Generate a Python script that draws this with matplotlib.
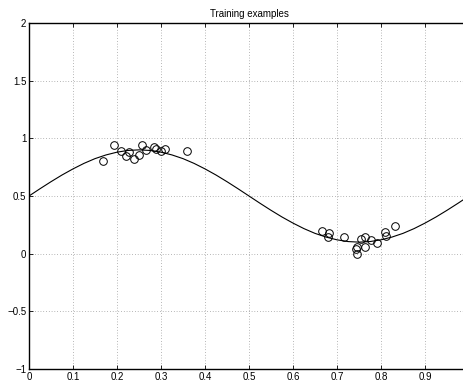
import numpy as np
import matplotlib
matplotlib.use("Agg")
import matplotlib.pyplot as plt

plt.rcParams['font.family'] = ['Liberation Sans', 'DejaVu Sans']

# training points
train_x = [0.168, 0.193, 0.208, 0.220, 0.228, 0.239, 0.251, 0.256, 0.265, 0.284,
           0.288, 0.300, 0.309, 0.358,
           0.666, 0.681, 0.680, 0.715, 0.745, 0.743, 0.745, 0.755, 0.764, 0.763,
           0.778, 0.792, 0.808, 0.812, 0.831]
train_y = [0.807, 0.945, 0.893, 0.844, 0.880, 0.824, 0.859, 0.945, 0.902, 0.922,
           0.910, 0.893, 0.910, 0.887,
           0.197, 0.182, 0.145, 0.145, 0.061, 0.038, 0.000, 0.124, 0.145, 0.061,
           0.116, 0.090, 0.190, 0.153, 0.240]

# underlying curve, sampled every 0.025
curve_x = [i * 0.025 for i in range(41)]
curve_y = [0.5, 0.563, 0.624, 0.682, 0.735, 0.783, 0.824, 0.856, 0.880, 0.895,
           0.9, 0.895, 0.880, 0.856, 0.824, 0.783, 0.735, 0.682, 0.624, 0.563,
           0.5, 0.437, 0.376, 0.318, 0.265, 0.217, 0.176, 0.144, 0.120, 0.105,
           0.1, 0.105, 0.120, 0.144, 0.176, 0.217, 0.265, 0.318, 0.376, 0.437, 0.5]

x_ticks = [0, 0.1, 0.2, 0.3, 0.4, 0.5, 0.6, 0.7, 0.8, 0.9]
x_labels = ['0', '0.1', '0.2', '0.3', '0.4', '0.5', '0.6', '0.7', '0.8', '0.9']
y_ticks = [-1, -0.5, 0, 0.5, 1, 1.5, 2]
y_labels = ['\u22121', '\u22120.5', '0', '0.5', '1', '1.5', '2']

fig = plt.figure(figsize=(4.64, 3.83), dpi=100)
ax = fig.add_axes([29 / 464, 14 / 383, 440 / 464, 346 / 383])

ax.plot(curve_x, curve_y, color='k', linewidth=0.8)
ax.plot(train_x, train_y, 'o', markerfacecolor='none', markeredgecolor='k',
        markersize=5.5, markeredgewidth=0.7)

ax.set_xlim(0, 1)
ax.set_ylim(-1, 2)
ax.set_xticks(x_ticks)
ax.set_xticklabels(x_labels)
ax.set_yticks(y_ticks)
ax.set_yticklabels(y_labels)
ax.grid(True, color='k', linestyle=(0, (1, 3)), linewidth=0.5, alpha=0.55)
ax.tick_params(direction='in', length=3, width=0.6, labelsize=7, pad=2,
               top=True, right=True)
for s in ax.spines.values():
    s.set_linewidth(1.0)

ax.set_title('Training examples', fontsize=7, pad=4)

fig.savefig('out.png', dpi=100)
